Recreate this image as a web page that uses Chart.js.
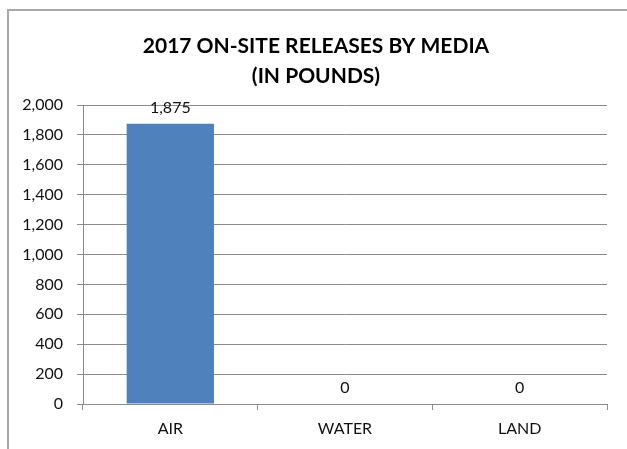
<!DOCTYPE html>
<html>
<head>
<meta charset="utf-8">
<script src="https://cdn.jsdelivr.net/npm/chart.js@4/dist/chart.umd.min.js"></script>
<style>
  html, body { margin: 0; padding: 0; background: #fff; overflow: hidden; }
  #frame {
    position: absolute; left: 7px; top: 9px; width: 700px; height: 500px;
    border-top: 2px solid #a8a8a8; border-left: 2px solid #a8a8a8;
  }
  #wrap { position: absolute; left: 0; top: 0; width: 627px; height: 449px; }
</style>
</head>
<body>
<div id="frame"></div>
<div id="wrap"><canvas id="chart" width="627" height="449"></canvas></div>
<script>
// On-site releases by media, 2017 (pounds)
const categories = ['AIR', 'WATER', 'LAND'];
const releases = [1875, 0, 0];
const titleLines = ['2017 ON-SITE RELEASES BY MEDIA', '(IN POUNDS)'];
const yMin = 0, yMax = 2000, yStep = 200;

const FONT = 'Lato, "Open Sans", sans-serif';
const GRID = '#8c8c8c';

// two-line heading, centred on the framed chart rather than the plot
const heading = {
  id: 'heading',
  afterDraw(chart) {
    const ctx = chart.ctx;
    ctx.save();
    ctx.font = 'bold 21px ' + FONT;
    ctx.fillStyle = '#000';
    ctx.textAlign = 'center';
    ctx.textBaseline = 'middle';
    titleLines.forEach((line, i) => ctx.fillText(line, 316, 46 + i * 30));
    ctx.restore();
  }
};

// writes each bar's value just above it
const valueLabels = {
  id: 'valueLabels',
  afterDatasetsDraw(chart) {
    const ctx = chart.ctx;
    const meta = chart.getDatasetMeta(0);
    const data = chart.data.datasets[0].data;
    ctx.save();
    ctx.font = '16px ' + FONT;
    ctx.fillStyle = '#111';
    ctx.textAlign = 'center';
    ctx.textBaseline = 'bottom';
    meta.data.forEach((bar, i) => {
      ctx.fillText(data[i].toLocaleString('en-US'), bar.x, bar.y - 8);
    });
    ctx.restore();
  }
};

new Chart(document.getElementById('chart'), {
  type: 'bar',
  data: {
    labels: categories,
    datasets: [{
      data: releases,
      backgroundColor: '#4f81bd',
      borderWidth: 0,
      barPercentage: 0.5,
      categoryPercentage: 1.0
    }]
  },
  options: {
    responsive: false,
    animation: false,
    events: [],
    layout: { padding: { left: 0, right: 20, top: 105, bottom: 0 } },
    plugins: {
      legend: { display: false },
      tooltip: { enabled: false },
      title: { display: false }
    },
    scales: {
      x: {
        offset: true,
        grid: {
          offset: true,
          drawOnChartArea: false,
          drawTicks: true,
          tickLength: 6,
          color: GRID
        },
        border: { color: GRID, width: 1 },
        ticks: { color: '#111', font: { family: FONT, size: 16 }, padding: 9 },
        afterFit(scale) { scale.height = 45; }
      },
      y: {
        min: yMin,
        max: yMax,
        grid: { color: GRID, tickLength: 6, drawTicks: true },
        border: { color: GRID, width: 1 },
        ticks: {
          stepSize: yStep,
          color: '#111',
          font: { family: FONT, size: 16 },
          padding: 14,
          callback: v => v.toLocaleString('en-US')
        },
        afterFit(scale) { scale.width = 83; }
      }
    }
  },
  plugins: [valueLabels, heading]
});
</script>
</body>
</html>
